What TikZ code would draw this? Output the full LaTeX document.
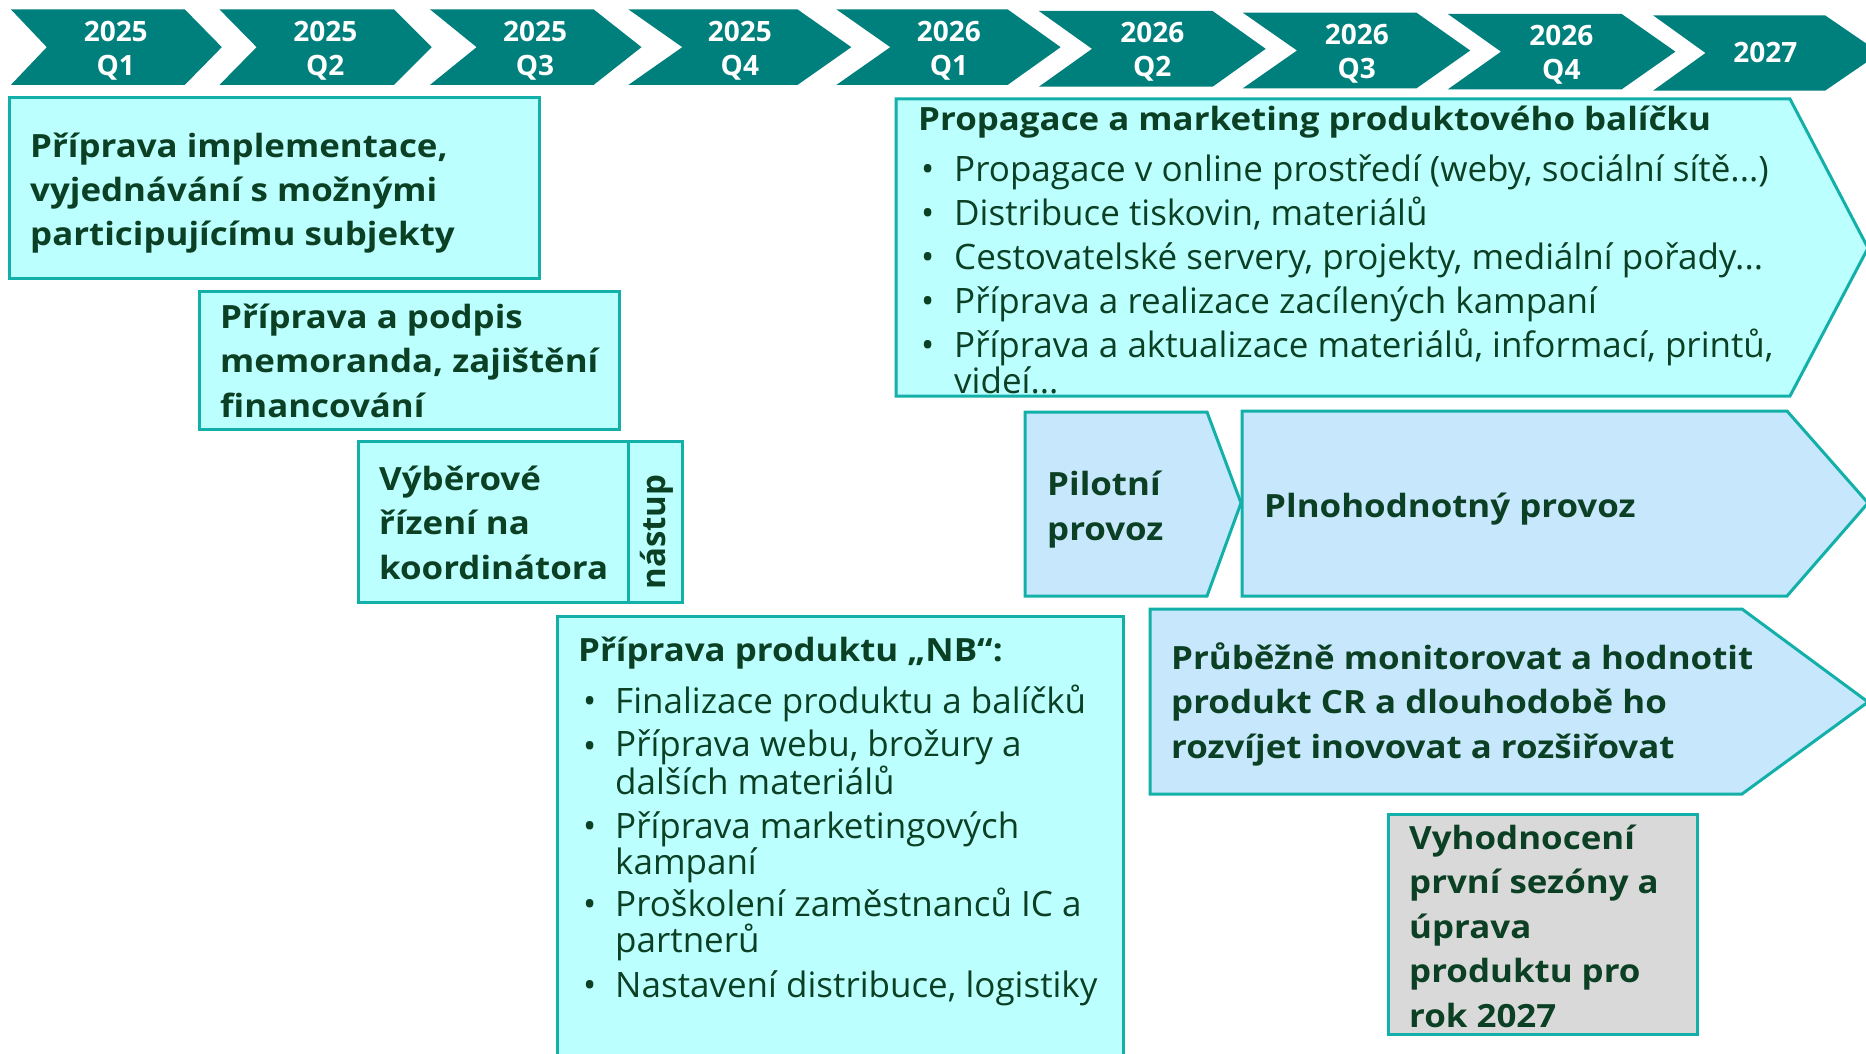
\documentclass[tikz,border=0pt]{standalone}
\usepackage{fontspec}
\setmainfont{Open Sans}
\newfontfamily\widefam[FakeStretch=1.09]{Open Sans}
\definecolor{chevteal}{RGB}{0,128,124}
\definecolor{bordc}{RGB}{18,176,168}
\definecolor{cyanfill}{RGB}{188,255,255}
\definecolor{bluefill}{RGB}{199,232,252}
\definecolor{grayfill}{RGB}{217,217,217}
\definecolor{txtgreen}{RGB}{12,64,36}
\newcommand\chevfont{\bfseries\fontsize{28}{34}\selectfont}
\newcommand\ttlfont{\widefam\bfseries\fontsize{32}{44.5}\selectfont}
\newcommand\itmfont{\fontsize{35}{36}\selectfont}
% timeline chevron: name, left, notch, flat end, tip, top, bottom, label baseline offset, label
\newcommand\tlchev[9]{%
  \fill[chev] (#2,#6) -- (#4,#6) -- (#5,{(#6+#7)/2}) -- (#4,#7) -- (#2,#7) -- (#3,{(#6+#7)/2}) -- cycle;
  \node[chevtxt] (#1) at ({(#3+#4)/2},{(#6+#7)/2+#8}) {#9};}
\tikzset{
  chev/.style={fill=chevteal},
  cbox/.style={fill=cyanfill, draw=bordc, line width=3pt},
  bbox/.style={fill=bluefill, draw=bordc, line width=3pt},
  gbox/.style={fill=grayfill, draw=bordc, line width=3pt},
  chevtxt/.style={text=white, font=\chevfont, align=center, inner sep=0pt, anchor=base},
  ttl/.style={text=txtgreen, font=\ttlfont, align=left, inner sep=0pt, anchor=base west},
  itm/.style={text=txtgreen, font=\itmfont, align=left, inner sep=0pt, anchor=base west},
}
\begin{document}
\begin{tikzpicture}[x=1pt,y=-1pt]
\useasboundingbox (0,0) rectangle (1866,1054);
\path[clip] (0,0) rectangle (1866,1054);
\fill[white] (0,0) rectangle (1866,1054);

% quarters (labels are anchored at the baseline of their last line)
\tlchev{q1}{10.8}{46.8}{184.7}{221.8}{9.3}{85}{28}{2025\\Q1}
\tlchev{q2}{219.4}{256.6}{393.9}{431.7}{9.3}{85}{28}{2025\\Q2}
\tlchev{q3}{429.9}{476.6}{593.5}{641.5}{9.3}{85}{28}{2025\\Q3}
\tlchev{q4}{628.3}{682.3}{797.4}{851.3}{9.3}{85}{28}{2025\\Q4}
\tlchev{q5}{836.3}{890.3}{1007.5}{1060.6}{9.3}{85}{28}{2026\\Q1}
\tlchev{q6}{1038.9}{1092}{1212.6}{1265.7}{11}{86.7}{28}{2026\\Q2}
\tlchev{q7}{1242.8}{1297}{1416.5}{1470.2}{12.7}{88.3}{28}{2026\\Q3}
\tlchev{q8}{1447.9}{1501}{1621.7}{1675.4}{14}{89.3}{28}{2026\\Q4}
\tlchev{q9}{1653}{1705.5}{1825}{1880}{15.3}{90.7}{10}{2027}

% preparation boxes
\draw[cbox] (9,98) rectangle (539,278);
\node[ttl] (impl) at (30,246) {Příprava implementace,\\vyjednávání s možnými\\participujícímu subjekty};

\draw[cbox] (199,291) rectangle (619,429);
\node[ttl] (memo) at (220,417) {Příprava a podpis\\memoranda, zajištění\\financování};

\draw[cbox] (358,441) rectangle (682,602);
\draw[bordc, line width=3pt] (628.6,441) -- (628.6,602);
\node[ttl] (vyber) at (379,579) {Výběrové\\řízení na\\koordinátora};
\node[text=txtgreen, font=\bfseries\fontsize{33}{36}\selectfont, inner sep=0pt, rotate=90] (nastup) at (657,532) {nástup};

% marketing
\draw[cbox] (896,99) -- (1790,99) -- (1868,248) -- (1790,396) -- (896,396) -- cycle;
\node[ttl] (mkt) at (918,131) {Propagace a marketing produktového balíčku};
\node[itm] (m1b) at (921,181) {•};
\node[itm] (m1) at (954,181) {Propagace v online prostředí (weby, sociální sítě...)};
\node[itm] (m2b) at (921,225) {•};
\node[itm] (m2) at (954,225) {Distribuce tiskovin, materiálů};
\node[itm] (m3b) at (921,269) {•};
\node[itm] (m3) at (954,269) {Cestovatelské servery, projekty, mediální pořady...};
\node[itm] (m4b) at (921,313) {•};
\node[itm] (m4) at (954,313) {Příprava a realizace zacílených kampaní};
\node[itm] (m5b) at (921,357) {•};
\node[itm] (m5) at (954,393) {Příprava a aktualizace materiálů, informací, printů,\\videí...};

% operation
\draw[bbox] (1025,412) -- (1207,412) -- (1241,503) -- (1207,596) -- (1025,596) -- cycle;
\node[ttl] (pilot) at (1047,540) {Pilotní\\provoz};
\draw[bbox] (1242,411) -- (1787,411) -- (1868,503) -- (1787,596) -- (1242,596) -- cycle;
\node[ttl] (plno) at (1264,517) {Plnohodnotný provoz};
\draw[bbox] (1150,609) -- (1742,609) -- (1868,702) -- (1742,794) -- (1150,794) -- cycle;
\node[ttl] (monit) at (1171,758) {Průběžně monitorovat a hodnotit\\produkt CR a dlouhodobě ho\\rozvíjet inovovat a rozšiřovat};

% product preparation
\draw[cbox] (557,616) rectangle (1123,1070);
\node[ttl] (nb) at (578,661) {Příprava produktu „NB“:};
\node[itm] (n1b) at (583,713) {•};
\node[itm] (n1) at (615,713) {Finalizace produktu a balíčků};
\node[itm] (n2b) at (583,758) {•};
\node[itm] (n2) at (615,794) {Příprava webu, brožury a\\dalších materiálů};
\node[itm] (n3b) at (583,838) {•};
\node[itm] (n3) at (615,874) {Příprava marketingových\\kampaní};
\node[itm] (n4b) at (583,916) {•};
\node[itm] (n4) at (615,952) {Proškolení zaměstnanců IC a\\partnerů};
\node[itm] (n5b) at (583,997) {•};
\node[itm] (n5) at (615,997) {Nastavení distribuce, logistiky};

% evaluation
\draw[gbox] (1388,814) rectangle (1697,1034);
\node[ttl] (eval) at (1409,1027) {Vyhodnocení\\první sezóny a\\úprava\\produktu pro\\rok 2027};
\end{tikzpicture}
\end{document}
